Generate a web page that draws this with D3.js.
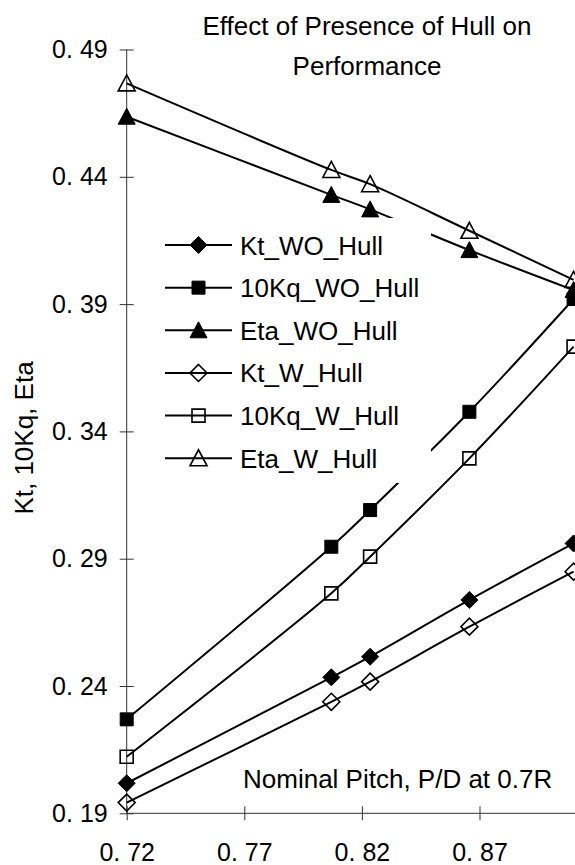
<!DOCTYPE html>
<html>
<head>
<meta charset="utf-8">
<script src="https://cdn.jsdelivr.net/npm/d3@7"></script>
<style>
  html, body { margin: 0; padding: 0; background: #fff; }
  svg { display: block; font-family: "Liberation Sans", Arial, sans-serif; }
</style>
</head>
<body>
<svg id="chart" width="575" height="865"></svg>
<script>
// ---- data ----
const pitch = [0.72, 0.807, 0.8235, 0.8657, 0.91];
const ktWO   = [0.2018, 0.2434, 0.2515, 0.2738, 0.2960];
const kqWO   = [0.2269, 0.2947, 0.3091, 0.3477, 0.3920];
const etaWO  = [0.4636, 0.4329, 0.4272, 0.4112, 0.3955];
const ktW    = [0.1942, 0.2338, 0.2417, 0.2633, 0.2849];
const kqW    = [0.2122, 0.2764, 0.2908, 0.3294, 0.3733];
const etaW   = [0.4767, 0.4427, 0.4371, 0.4188, 0.3995];
const seriesNames = ["Kt_WO_Hull", "10Kq_WO_Hull", "Eta_WO_Hull", "Kt_W_Hull", "10Kq_W_Hull", "Eta_W_Hull"];
const yTickValues = [0.19, 0.24, 0.29, 0.34, 0.39, 0.44, 0.49];
const yTickLabels = ["0. 19", "0. 24", "0. 29", "0. 34", "0. 39", "0. 44", "0. 49"];
const xTickValues = [0.72, 0.77, 0.82, 0.87];
const xTickLabels = ["0. 72", "0. 77", "0. 82", "0. 87"];
const titleLines = ["Effect of Presence of Hull on", "Performance"];
const yTitle = "Kt, 10Kq, Eta";
const xTitle = "Nominal Pitch, P/D at 0.7R";

// ---- styling / shapes ----
const seriesValues = [ktWO, kqWO, etaWO, ktW, kqW, etaW];
const shapes = ["diamond", "square", "triangle", "diamond", "square", "triangle"];
const filled = [true, true, true, false, false, false];

function markerPath(shape) {
  if (shape === "diamond") { const r = 8.5; return `M0,${-r}L${r},0L0,${r}L${-r},0Z`; }
  if (shape === "square") { const r = 6.5; return `M${-r},${-r}H${r}V${r}H${-r}Z`; }
  const w = 8.5, h = 8.5; return `M0,${-h}L${w},${h - 1}L${-w},${h - 1}Z`;
}

const svg = d3.select("#chart");
const x = d3.scaleLinear().domain([0.72, 0.92]).range([126.7, 597.1]);
const y = d3.scaleLinear().domain([0.19, 0.49]).range([813.3, 49.5]);

// ---- axes ----
const yAxis = svg.append("g").attr("transform", "translate(126.7,0)")
  .call(d3.axisLeft(y).tickValues(yTickValues).tickSizeInner(7).tickSizeOuter(0).tickPadding(12)
    .tickFormat((d, i) => yTickLabels[i]));
yAxis.select(".domain").remove();
yAxis.append("line").attr("x1", 0).attr("x2", 0).attr("y1", y(0.49)).attr("y2", y(0.19))
  .attr("stroke", "#333").attr("stroke-width", 1);
yAxis.selectAll(".tick line").attr("x1", 7).attr("stroke", "#333");
yAxis.selectAll(".tick text").attr("font-size", 25).attr("fill", "#000")
  .attr("font-family", "Liberation Sans, Arial, sans-serif");

const xAxis = svg.append("g").attr("transform", "translate(0,813.3)")
  .call(d3.axisBottom(x).tickValues(xTickValues).tickSizeInner(7).tickSizeOuter(0).tickPadding(23)
    .tickFormat((d, i) => xTickLabels[i]));
xAxis.select(".domain").remove();
xAxis.append("line").attr("x1", x(0.72)).attr("x2", x(0.92)).attr("y1", 0).attr("y2", 0)
  .attr("stroke", "#333").attr("stroke-width", 1);
xAxis.selectAll(".tick line").attr("y1", -7).attr("stroke", "#333");
xAxis.selectAll(".tick text").attr("font-size", 25).attr("fill", "#000")
  .attr("font-family", "Liberation Sans, Arial, sans-serif");

// ---- series ----
const line = d3.line().x(d => x(d[0])).y(d => y(d[1])).curve(d3.curveCatmullRom.alpha(0.5));
seriesValues.forEach((vals, s) => {
  const pts = pitch.map((p, i) => [p, vals[i]]);
  const g = svg.append("g");
  g.append("path").attr("d", line(pts)).attr("fill", "none").attr("stroke", "#000").attr("stroke-width", 2);
  g.selectAll("path.m").data(pts).join("path").attr("class", "m")
    .attr("transform", d => `translate(${x(d[0])},${y(d[1])})`)
    .attr("d", markerPath(shapes[s]))
    .attr("fill", filled[s] ? "#000" : "none")
    .attr("stroke", "#000").attr("stroke-width", filled[s] ? 1 : 1.6);
});

// ---- legend ----
const leg = svg.append("g");
leg.append("rect").attr("x", 158).attr("y", 218).attr("width", 273).attr("height", 265).attr("fill", "#fff");
seriesNames.forEach((name, i) => {
  const cy = 245 + i * 42.65;
  leg.append("line").attr("x1", 165).attr("x2", 232).attr("y1", cy).attr("y2", cy)
    .attr("stroke", "#000").attr("stroke-width", 2);
  leg.append("path").attr("transform", `translate(198.5,${cy})`).attr("d", markerPath(shapes[i]))
    .attr("fill", filled[i] ? "#000" : "none").attr("stroke", "#000").attr("stroke-width", filled[i] ? 1 : 1.6);
  leg.append("text").attr("x", 240).attr("y", cy + 9.5).attr("font-size", 26).text(name);
});

// ---- titles ----
svg.append("text").attr("x", 367).attr("y", 35).attr("text-anchor", "middle").attr("font-size", 26).text(titleLines[0]);
svg.append("text").attr("x", 367).attr("y", 75).attr("text-anchor", "middle").attr("font-size", 26).text(titleLines[1]);
svg.append("text").attr("transform", "translate(33,438) rotate(-90)").attr("text-anchor", "middle")
  .attr("font-size", 26).text(yTitle);
svg.append("text").attr("x", 243).attr("y", 788).attr("font-size", 26).text(xTitle);
</script>
</body>
</html>
